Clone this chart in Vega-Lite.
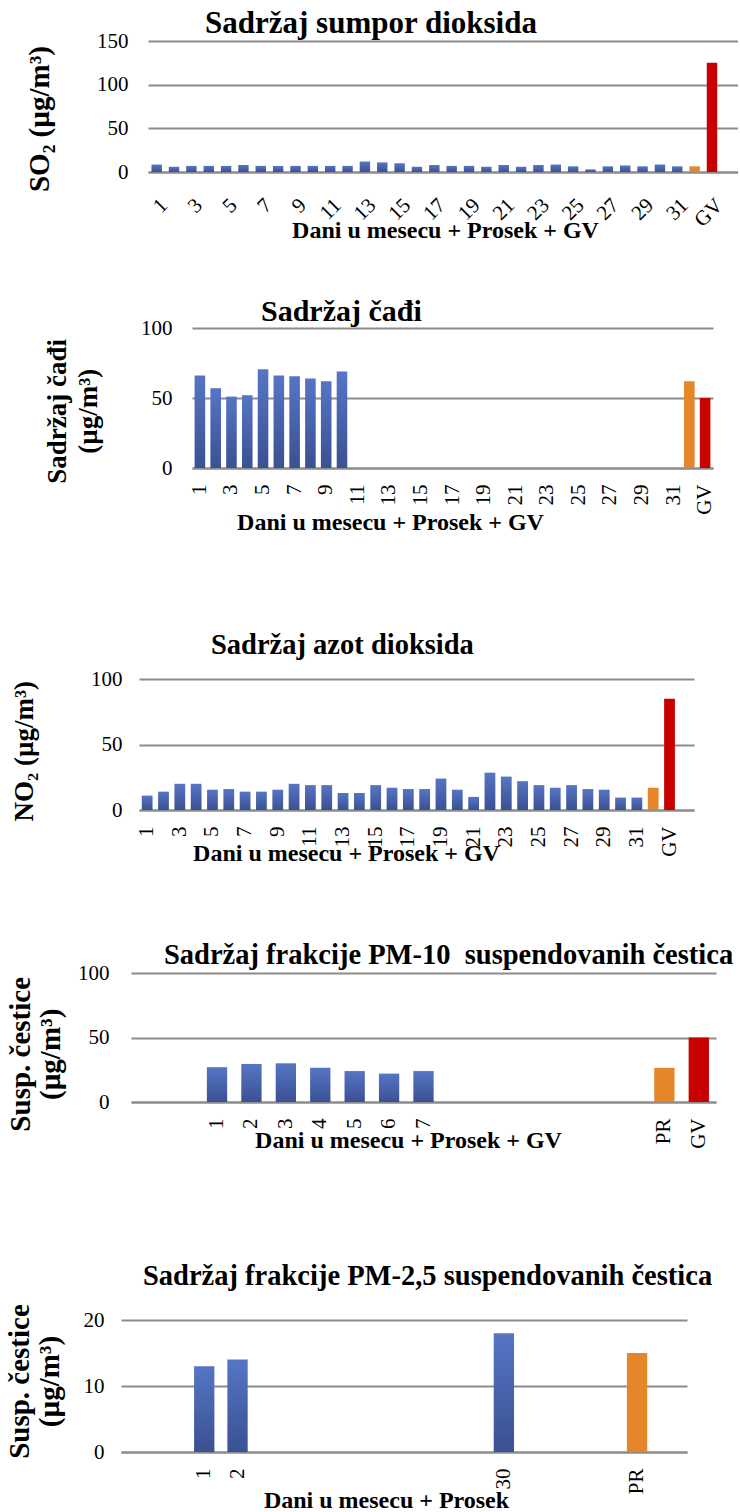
{
  "$schema": "https://vega.github.io/schema/vega-lite/v6.json",
  "padding": {"left": 0, "top": 8, "right": 0, "bottom": 0},
  "background": "white",
  "spacing": 0,
  "config": {
    "font": "Liberation Serif",
    "view": {"stroke": null},
    "axis": {"labelFont": "Liberation Serif", "titleFont": "Liberation Serif", "labelColor": "#000000", "titleColor": "#000000", "labelFontSize": 21, "labelFontWeight": "normal", "titleFontWeight": "bold", "ticks": false, "labelOverlap": false, "gridColor": "#8C8C8C", "gridWidth": 2, "domainColor": "#8C8C8C", "domainWidth": 2},
    "title": {"font": "Liberation Serif", "fontWeight": "bold", "color": "#000000", "anchor": "start", "frame": "group", "baseline": "alphabetic"}
  },
  "datasets": {
    "so2": [
      {"k": "1", "v": 8.5, "t": "d"}, {"k": "2", "v": 6, "t": "d"}, {"k": "3", "v": 7, "t": "d"}, {"k": "4", "v": 7, "t": "d"},
      {"k": "5", "v": 7, "t": "d"}, {"k": "6", "v": 8, "t": "d"}, {"k": "7", "v": 7, "t": "d"}, {"k": "8", "v": 7, "t": "d"},
      {"k": "9", "v": 7, "t": "d"}, {"k": "10", "v": 7, "t": "d"}, {"k": "11", "v": 7, "t": "d"}, {"k": "12", "v": 7, "t": "d"},
      {"k": "13", "v": 12, "t": "d"}, {"k": "14", "v": 11, "t": "d"}, {"k": "15", "v": 10, "t": "d"}, {"k": "16", "v": 6, "t": "d"},
      {"k": "17", "v": 8, "t": "d"}, {"k": "18", "v": 7, "t": "d"}, {"k": "19", "v": 7, "t": "d"}, {"k": "20", "v": 6, "t": "d"},
      {"k": "21", "v": 8, "t": "d"}, {"k": "22", "v": 6, "t": "d"}, {"k": "23", "v": 8, "t": "d"}, {"k": "24", "v": 8.5, "t": "d"},
      {"k": "25", "v": 6.5, "t": "d"}, {"k": "26", "v": 3, "t": "d"}, {"k": "27", "v": 6.5, "t": "d"}, {"k": "28", "v": 7.5, "t": "d"},
      {"k": "29", "v": 6.5, "t": "d"}, {"k": "30", "v": 8.5, "t": "d"}, {"k": "31", "v": 6.5, "t": "d"},
      {"k": "PR", "v": 6.5, "t": "PR"}, {"k": "GV", "v": 125, "t": "GV"}
    ],
    "cadj": [
      {"k": "1", "v": 66, "t": "d"}, {"k": "2", "v": 57, "t": "d"}, {"k": "3", "v": 51, "t": "d"}, {"k": "4", "v": 52, "t": "d"},
      {"k": "5", "v": 70.5, "t": "d"}, {"k": "6", "v": 66, "t": "d"}, {"k": "7", "v": 65.5, "t": "d"}, {"k": "8", "v": 64, "t": "d"},
      {"k": "9", "v": 62, "t": "d"}, {"k": "10", "v": 69, "t": "d"},
      {"k": "PR", "v": 62, "t": "PR"}, {"k": "GV", "v": 50, "t": "GV"}
    ],
    "no2": [
      {"k": "1", "v": 11, "t": "d"}, {"k": "2", "v": 14, "t": "d"}, {"k": "3", "v": 20, "t": "d"}, {"k": "4", "v": 20, "t": "d"},
      {"k": "5", "v": 15.5, "t": "d"}, {"k": "6", "v": 16, "t": "d"}, {"k": "7", "v": 14, "t": "d"}, {"k": "8", "v": 14, "t": "d"},
      {"k": "9", "v": 15.5, "t": "d"}, {"k": "10", "v": 20, "t": "d"}, {"k": "11", "v": 19, "t": "d"}, {"k": "12", "v": 19, "t": "d"},
      {"k": "13", "v": 13, "t": "d"}, {"k": "14", "v": 13, "t": "d"}, {"k": "15", "v": 19, "t": "d"}, {"k": "16", "v": 17, "t": "d"},
      {"k": "17", "v": 16, "t": "d"}, {"k": "18", "v": 16, "t": "d"}, {"k": "19", "v": 24, "t": "d"}, {"k": "20", "v": 15.5, "t": "d"},
      {"k": "21", "v": 10, "t": "d"}, {"k": "22", "v": 28.5, "t": "d"}, {"k": "23", "v": 25.5, "t": "d"}, {"k": "24", "v": 22, "t": "d"},
      {"k": "25", "v": 19, "t": "d"}, {"k": "26", "v": 17, "t": "d"}, {"k": "27", "v": 19, "t": "d"}, {"k": "28", "v": 16, "t": "d"},
      {"k": "29", "v": 15.5, "t": "d"}, {"k": "30", "v": 9.5, "t": "d"}, {"k": "31", "v": 9.5, "t": "d"},
      {"k": "PR", "v": 17, "t": "PR"}, {"k": "GV", "v": 85, "t": "GV"}
    ],
    "pm10": [
      {"k": "1", "v": 27, "t": "d"}, {"k": "2", "v": 29.5, "t": "d"}, {"k": "3", "v": 30, "t": "d"}, {"k": "4", "v": 26.5, "t": "d"},
      {"k": "5", "v": 24, "t": "d"}, {"k": "6", "v": 22, "t": "d"}, {"k": "7", "v": 24, "t": "d"},
      {"k": "PR", "v": 26.5, "t": "PR"}, {"k": "GV", "v": 50, "t": "GV"}
    ],
    "pm25": [
      {"k": "1", "v": 13, "t": "d"}, {"k": "2", "v": 14, "t": "d"}, {"k": "30", "v": 18, "t": "d"},
      {"k": "PR", "v": 15, "t": "PR"}
    ]
  },
  "vconcat": [
    {"spacing": 0, "hconcat": [
      {"width": 25, "height": 1, "data": {"values": []}, "mark": "point", "encoding": {}},
      {
      "width": 590, "height": 131,
      "data": {"name": "so2"},
      "title": {"text": "Sadržaj sumpor dioksida", "dx": 57, "dy": 19, "offset": 9, "fontSize": 31},
      "mark": {"type": "bar"},
      "encoding": {
        "x": {"field": "k", "type": "nominal",
          "scale": {"domain": ["1","2","3","4","5","6","7","8","9","10","11","12","13","14","15","16","17","18","19","20","21","22","23","24","25","26","27","28","29","30","31","PR","GV","e1"], "paddingInner": 0.4, "paddingOuter": 0.2},
          "axis": {"values": ["1","3","5","7","9","11","13","15","17","19","21","23","25","27","29","31","GV"], "labelAngle": -45, "labelPadding": 22,
            "title": ["Dani u mesecu + Prosek + GV", ""], "titleLineHeight": 55, "titleX": 297, "titleY": 65, "titleBaseline": "alphabetic", "titleFontSize": 24}},
        "y": {"field": "v", "type": "quantitative",
          "scale": {"domain": [0, 150], "nice": false},
          "axis": {"values": [0, 50, 100, 150], "domain": false, "labelPadding": 20,
            "title": "SO₂ (µg/m³)", "titleAngle": -90, "titleX": -100, "titleY": 77.5, "titleBaseline": "alphabetic", "titleFontSize": 29}},
        "color": {"condition": [{"test": "datum.t === 'GV'", "value": "#C80000"}, {"test": "datum.t === 'PR'", "value": "#E6862A"}],
          "value": {"gradient": "linear", "x1": 0, "y1": 0, "x2": 0, "y2": 1, "stops": [{"offset": 0, "color": "#5675C5"}, {"offset": 1, "color": "#3A5192"}]}}
      }
    }]},
    {"spacing": 0, "hconcat": [
      {"width": 43, "height": 1, "data": {"values": []}, "mark": "point", "encoding": {}},
      {
      "width": 521, "height": 140,
      "data": {"name": "cadj"},
      "title": {"text": "Sadržaj čađi", "dx": 69, "dy": 17, "offset": 6.7, "fontSize": 30},
      "mark": {"type": "bar"},
      "encoding": {
        "x": {"field": "k", "type": "nominal",
          "scale": {"domain": ["1","2","3","4","5","6","7","8","9","10","11","12","13","14","15","16","17","18","19","20","21","22","23","24","25","26","27","28","29","30","31","PR","GV"], "paddingInner": 0.33, "paddingOuter": 0.165},
          "axis": {"values": ["1","3","5","7","9","11","13","15","17","19","21","23","25","27","29","31","GV"], "labelAngle": -90, "labelPadding": 16,
            "title": ["Dani u mesecu + Prosek + GV", ""], "titleLineHeight": 96, "titleX": 198, "titleY": 61.7, "titleBaseline": "alphabetic", "titleFontSize": 24}},
        "y": {"field": "v", "type": "quantitative",
          "scale": {"domain": [0, 100], "nice": false},
          "axis": {"values": [0, 50, 100], "domain": false, "labelPadding": 20,
            "title": ["Sadržaj čađi", "(µg/m³)"], "titleLineHeight": 31, "titleAngle": -90, "titleX": -127, "titleY": 82.8, "titleBaseline": "alphabetic", "titleFontSize": 27}},
        "color": {"condition": [{"test": "datum.t === 'GV'", "value": "#C80000"}, {"test": "datum.t === 'PR'", "value": "#E6862A"}],
          "value": {"gradient": "linear", "x1": 0, "y1": 0, "x2": 0, "y2": 1, "stops": [{"offset": 0, "color": "#5675C5"}, {"offset": 1, "color": "#3A5192"}]}}
      }
    }]},
    {"spacing": 0, "hconcat": [
      {"width": 10, "height": 1, "data": {"values": []}, "mark": "point", "encoding": {}},
      {
      "width": 555, "height": 131,
      "data": {"name": "no2"},
      "title": {"text": "Sadržaj azot dioksida", "dx": 72, "dy": 17, "offset": 25.3, "fontSize": 28.5},
      "mark": {"type": "bar"},
      "encoding": {
        "x": {"field": "k", "type": "nominal",
          "scale": {"domain": ["1","2","3","4","5","6","7","8","9","10","11","12","13","14","15","16","17","18","19","20","21","22","23","24","25","26","27","28","29","30","31","PR","GV","e1"], "paddingInner": 0.34, "paddingOuter": 0.17},
          "axis": {"values": ["1","3","5","7","9","11","13","15","17","19","21","23","25","27","29","31","GV"], "labelAngle": -90, "labelPadding": 16,
            "title": ["Dani u mesecu + Prosek + GV", ""], "titleLineHeight": 75, "titleX": 207, "titleY": 50.4, "titleBaseline": "alphabetic", "titleFontSize": 24}},
        "y": {"field": "v", "type": "quantitative",
          "scale": {"domain": [0, 100], "nice": false},
          "axis": {"values": [0, 50, 100], "domain": false, "labelPadding": 17,
            "title": "NO₂ (µg/m³)", "titleAngle": -90, "titleX": -107, "titleY": 71.7, "titleBaseline": "alphabetic", "titleFontSize": 27}},
        "color": {"condition": [{"test": "datum.t === 'GV'", "value": "#C80000"}, {"test": "datum.t === 'PR'", "value": "#E6862A"}],
          "value": {"gradient": "linear", "x1": 0, "y1": 0, "x2": 0, "y2": 1, "stops": [{"offset": 0, "color": "#5675C5"}, {"offset": 1, "color": "#3A5192"}]}}
      }
    }]},
    {"spacing": 0, "hconcat": [
      {"width": 5, "height": 1, "data": {"values": []}, "mark": "point", "encoding": {}},
      {
      "width": 585, "height": 129,
      "data": {"name": "pm10"},
      "title": {"text": "Sadržaj frakcije PM-10 \u00a0suspendovanih čestica", "dx": 33, "dy": 17, "offset": 9.3, "fontSize": 28.5},
      "mark": {"type": "bar"},
      "encoding": {
        "x": {"field": "k", "type": "nominal",
          "scale": {"domain": ["b1","b2","1","2","3","4","5","6","7","b3","b4","b5","b6","b7","b8","PR","GV"], "paddingInner": 0.41, "paddingOuter": 0.205},
          "axis": {"values": ["1","2","3","4","5","6","7","PR","GV"], "labelAngle": -90, "labelPadding": 16,
            "title": ["Dani u mesecu + Prosek + GV", ""], "titleLineHeight": 109, "titleX": 277, "titleY": 45.7, "titleBaseline": "alphabetic", "titleFontSize": 24}},
        "y": {"field": "v", "type": "quantitative",
          "scale": {"domain": [0, 100], "nice": false},
          "axis": {"values": [0, 50, 100], "domain": false, "labelPadding": 22,
            "title": ["Susp. čestice", "(µg/m³)"], "titleLineHeight": 30, "titleAngle": -90, "titleX": -102, "titleY": 80.8, "titleBaseline": "alphabetic", "titleFontSize": 29}},
        "color": {"condition": [{"test": "datum.t === 'GV'", "value": "#C80000"}, {"test": "datum.t === 'PR'", "value": "#E6862A"}],
          "value": {"gradient": "linear", "x1": 0, "y1": 0, "x2": 0, "y2": 1, "stops": [{"offset": 0, "color": "#5675C5"}, {"offset": 1, "color": "#3A5192"}]}}
      }
    }]},
    {"spacing": 0, "hconcat": [
      {"width": 5, "height": 1, "data": {"values": []}, "mark": "point", "encoding": {}},
      {
      "width": 566, "height": 132,
      "data": {"name": "pm25"},
      "title": {"text": "Sadržaj frakcije PM-2,5 suspendovanih čestica", "dx": 22, "dy": 15, "offset": 28, "fontSize": 28.5},
      "mark": {"type": "bar"},
      "encoding": {
        "x": {"field": "k", "type": "nominal",
          "scale": {"domain": ["b1","b2","1","2","b3","b4","b5","b6","b7","b8","b9","30","b10","b11","b12","PR","b13"], "paddingInner": 0.39, "paddingOuter": 0.195},
          "axis": {"values": ["1","2","30","PR"], "labelAngle": -90, "labelPadding": 16,
            "title": "Dani u mesecu + Prosek", "titleX": 265, "titleY": 55, "titleBaseline": "alphabetic", "titleFontSize": 24}},
        "y": {"field": "v", "type": "quantitative",
          "scale": {"domain": [0, 20], "nice": false},
          "axis": {"values": [0, 10, 20], "domain": false, "labelPadding": 17,
            "title": ["Susp. čestice", "(µg/m³)"], "titleLineHeight": 30, "titleAngle": -90, "titleX": -93, "titleY": 61, "titleBaseline": "alphabetic", "titleFontSize": 29}},
        "color": {"condition": [{"test": "datum.t === 'GV'", "value": "#C80000"}, {"test": "datum.t === 'PR'", "value": "#E6862A"}],
          "value": {"gradient": "linear", "x1": 0, "y1": 0, "x2": 0, "y2": 1, "stops": [{"offset": 0, "color": "#5675C5"}, {"offset": 1, "color": "#3A5192"}]}}
      }
    }]}
  ]
}
